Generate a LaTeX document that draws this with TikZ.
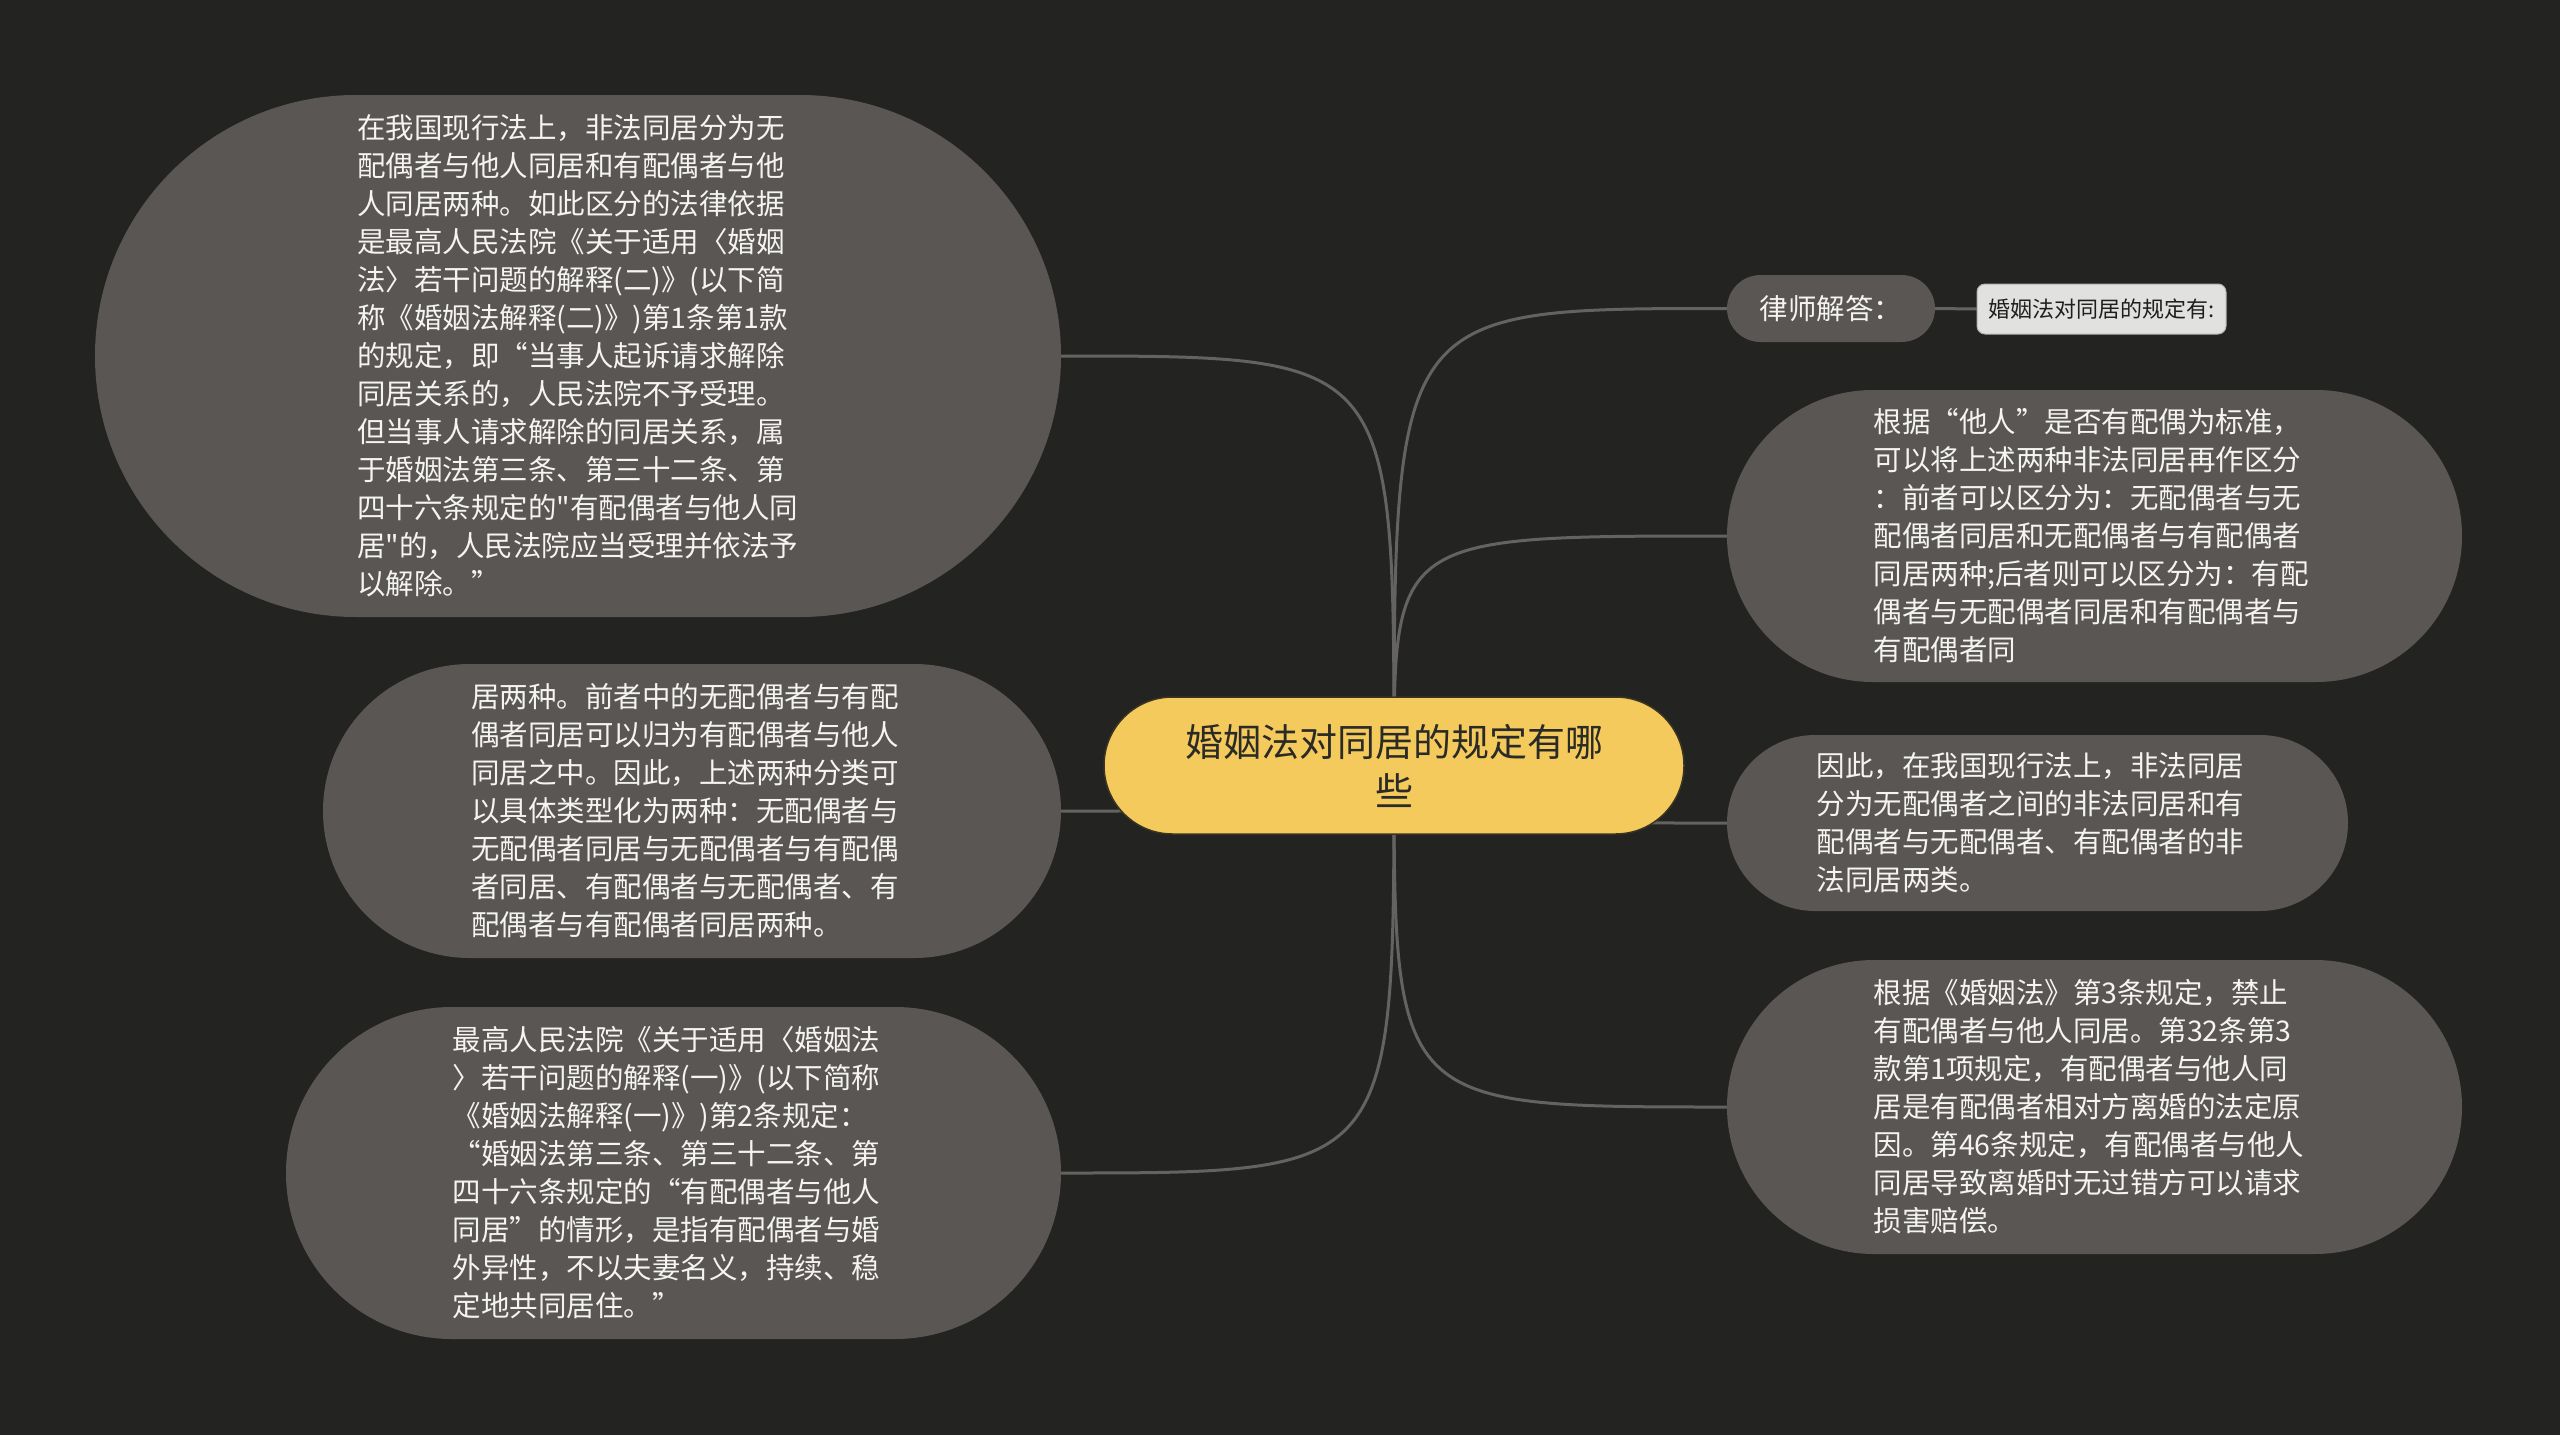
\documentclass[tikz,border=0pt]{standalone}
\usepackage{fontspec}
\setmainfont{Noto Sans CJK SC}[Ligatures=TeXOff]
\usepackage{xcolor}
\usepackage{tikz}

\definecolor{bgdark}{HTML}{232321}
\definecolor{leaffill}{HTML}{5A5653}
\definecolor{leafink}{HTML}{F4F4F2}
\definecolor{rootfill}{HTML}{F5CA5C}
\definecolor{rootedge}{HTML}{3A3422}
\definecolor{rootink}{HTML}{2A2A26}
\definecolor{linkgray}{HTML}{646361}
\definecolor{tagfill}{HTML}{E1E1E0}

\pgfdeclarelayer{edges}
\pgfsetlayers{edges,main}

\tikzset{
  bubble/.style={rectangle, fill=leaffill, text=leafink, inner sep=0pt,
    font=\fontsize{28.5pt}{38pt}\selectfont},
  leaf/.style={bubble, text width=442pt, align=left},
  link/.style={draw=linkgray, line width=3pt},
}

\begin{document}
\begin{tikzpicture}[x=1pt,y=-1pt]
		\useasboundingbox (0,0) rectangle (2560,1435);
		\begin{pgfonlayer}{edges}
		\fill[bgdark] (0,0) rectangle (2560,1435);
		\end{pgfonlayer}
		% root 1104 - 1684
		\node[rectangle, fill=rootfill, draw=rootedge, line width=1.5pt, rounded corners=68.5pt,
		      minimum width=580pt, minimum height=137pt, inner sep=0pt, text width=430pt, align=center,
		      text=rootink, font=\fontsize{38pt}{49pt}\selectfont] (root) at (1394,765.5)
		      {婚姻法对同居的规定有哪\\些};
		% left side 95 - 1061
		\node[leaf, minimum width=966pt, minimum height=522pt, rounded corners=261pt] (explainTwo) at (578,356)
		      {在我国现行法上，非法同居分为无\\配偶者与他人同居和有配偶者与他\\人同居两种。如此区分的法律依据\\是最高人民法院《关于适用〈婚姻\\法〉若干问题的解释(二)》(以下简\\称《婚姻法解释(二)》)第1条第1款\\的规定，即“当事人起诉请求解除\\同居关系的，人民法院不予受理。\\但当事人请求解除的同居关系，属\\于婚姻法第三条、第三十二条、第\\四十六条规定的"有配偶者与他人同\\居"的，人民法院应当受理并依法予\\以解除。”};
		\node[leaf, minimum width=738pt, minimum height=294pt, rounded corners=147pt] (twoKinds) at (692,811)
		      {居两种。前者中的无配偶者与有配\\偶者同居可以归为有配偶者与他人\\同居之中。因此，上述两种分类可\\以具体类型化为两种：无配偶者与\\无配偶者同居与无配偶者与有配偶\\者同居、有配偶者与无配偶者、有\\配偶者与有配偶者同居两种。};
		\node[leaf, minimum width=775pt, minimum height=332pt, rounded corners=166pt] (explainOne) at (673.5,1173)
		      {最高人民法院《关于适用〈婚姻法\\〉若干问题的解释(一)》(以下简称\\《婚姻法解释(一)》)第2条规定：\\“婚姻法第三条、第三十二条、第\\四十六条规定的“有配偶者与他人\\同居”的情形，是指有配偶者与婚\\外异性，不以夫妻名义，持续、稳\\定地共同居住。”};
		% right side 1727 - 2462
		\node[bubble, minimum width=208pt, minimum height=67pt, rounded corners=33.5pt] (lawyer) at (1831,308.5)
		      {律师解答：};
		\node[rectangle, fill=tagfill, draw=black!30, line width=1pt, rounded corners=8pt, inner sep=0pt,
		      minimum width=249pt, minimum height=50pt, text=black!88,
		      font=\fontsize{22pt}{26pt}\selectfont] (answerTag) at (2101.5,309)
		      {婚姻法对同居的规定有:};
		\node[leaf, minimum width=735pt, minimum height=292pt, rounded corners=146pt] (byOther) at (2094.5,536)
		      {根据“他人”是否有配偶为标准，\\可以将上述两种非法同居再作区分\\：前者可以区分为：无配偶者与无\\配偶者同居和无配偶者与有配偶者\\同居两种;后者则可以区分为：有配\\偶者与无配偶者同居和有配偶者与\\有配偶者同};
		\node[leaf, minimum width=621pt, minimum height=176pt, rounded corners=88pt] (summary) at (2037.5,823)
		      {因此，在我国现行法上，非法同居\\分为无配偶者之间的非法同居和有\\配偶者与无配偶者、有配偶者的非\\法同居两类。};
		\node[leaf, minimum width=735pt, minimum height=294pt, rounded corners=147pt] (article) at (2094.5,1107)
		      {根据《婚姻法》第3条规定，禁止\\有配偶者与他人同居。第32条第3\\款第1项规定，有配偶者与他人同\\居是有配偶者相对方离婚的法定原\\因。第46条规定，有配偶者与他人\\同居导致离婚时无过错方可以请求\\损害赔偿。};
		% links
		\begin{pgfonlayer}{edges}
		\draw[link] (root.center) .. controls (root.center |- explainTwo.east) .. (explainTwo.east);
		\draw[link] (root.center) .. controls (root.center |- twoKinds.east) .. (twoKinds.east);
		\draw[link] (root.center) .. controls (root.center |- explainOne.east) .. (explainOne.east);
		\draw[link] (root.center) .. controls (root.center |- lawyer.west) .. (lawyer.west);
		\draw[link] (root.center) .. controls (root.center |- byOther.west) .. (byOther.west);
		\draw[link] (root.center) .. controls (root.center |- summary.west) .. (summary.west);
		\draw[link] (root.center) .. controls (root.center |- article.west) .. (article.west);
		\draw[link] (lawyer.east) -- (answerTag.west);
		\end{pgfonlayer}
	\end{tikzpicture}
\end{document}
